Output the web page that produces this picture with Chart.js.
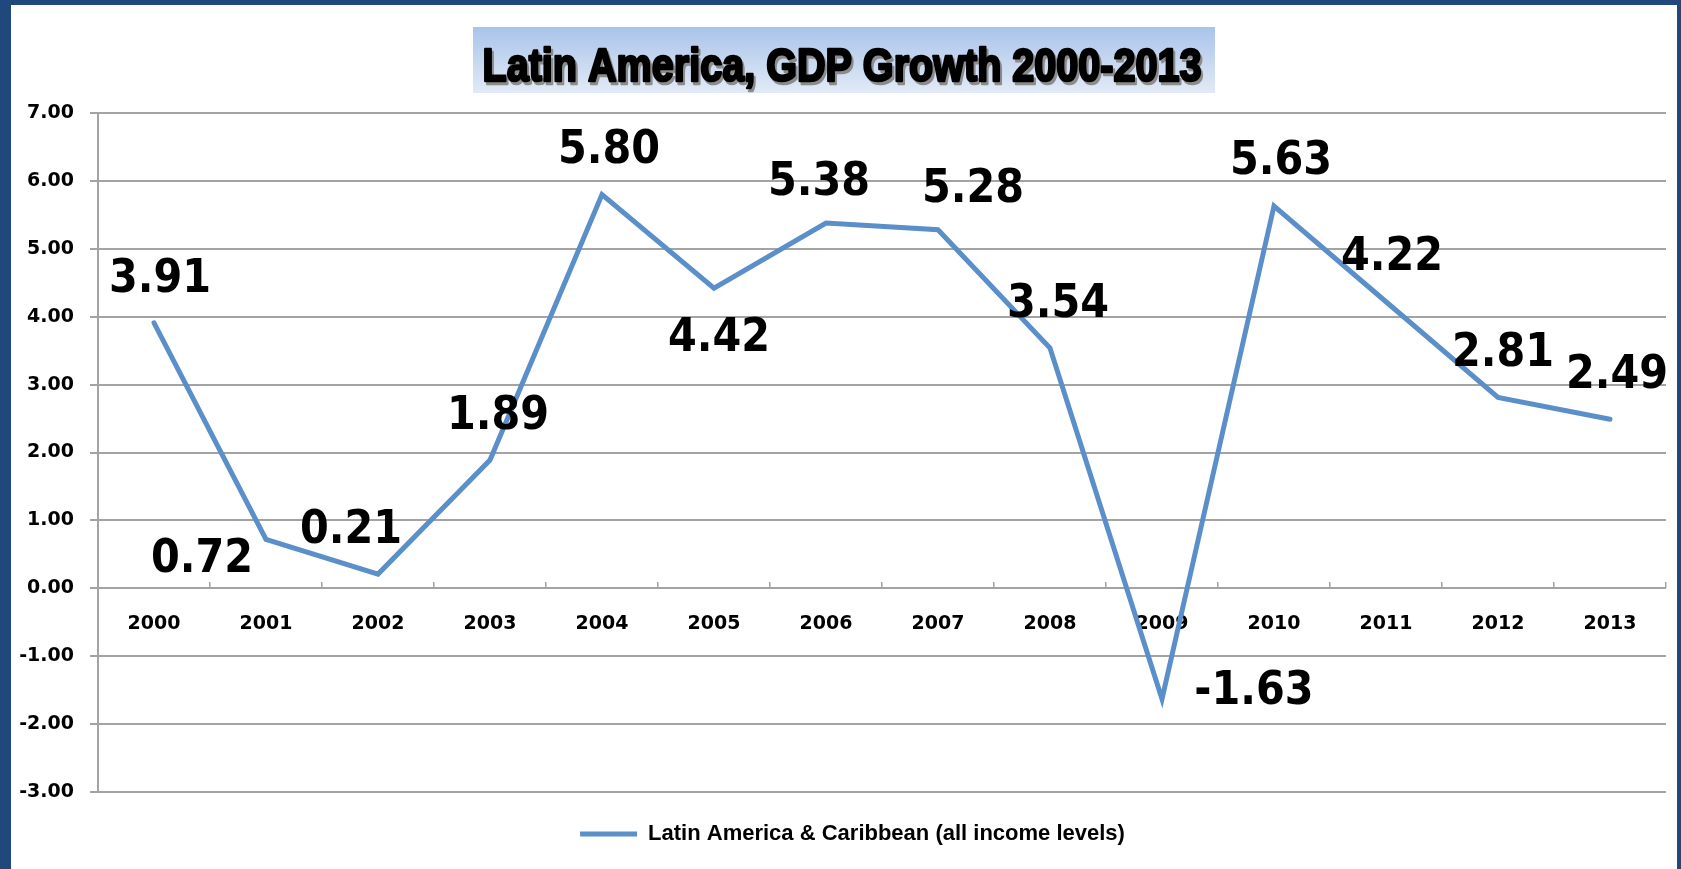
<!DOCTYPE html>
<html>
<head>
<meta charset="utf-8">
<title>Latin America, GDP Growth 2000-2013</title>
<script src="https://cdn.jsdelivr.net/npm/chart.js@4.4.1/dist/chart.umd.min.js"></script>
<style>
  html, body { margin: 0; padding: 0; width: 100%; height: 100%; overflow: hidden; background: #1f497d; }
  #frame { position: absolute; left: 11px; top: 5px; width: 1666px; height: 864px; background: #fff; }
  #chart { display: block; }
</style>
</head>
<body>
<div id="frame"><canvas id="chart" width="1666" height="860"></canvas></div>
<script>
const chartTitle = 'Latin America, GDP Growth 2000-2013';
const seriesName = 'Latin America & Caribbean (all income levels)';
const years = ['2000', '2001', '2002', '2003', '2004', '2005', '2006',
               '2007', '2008', '2009', '2010', '2011', '2012', '2013'];
const gdpGrowth = [3.91, 0.72, 0.21, 1.89, 5.80, 4.42, 5.38,
                   5.28, 3.54, -1.63, 5.63, 4.22, 2.81, 2.49];
const yMin = -3;
const yMax = 7;
const yStep = 1;

// label nudges in px from each point (x, y of the digit centre)
const labelShift = [
  [6, -48], [-64, 16], [-27, -48], [8, -48], [7, -48], [5, 46], [-7, -45],
  [35, -45], [8, -48], [92, -12], [7, -49], [6, -49], [5, -49], [7, -48]
];

const lineBlue = '#5a8fc9';
const gridGrey = '#a3a3a3';
const tickFont = { family: '"DejaVu Sans", Verdana, sans-serif', weight: 'bold', size: 19 };

// gradient box + squeezed heavy title at the top
const titleBox = {
  id: 'titleBox',
  beforeDraw(chart) {
    const ctx = chart.ctx;
    const cx = chart.width / 2;
    const w = 742, h = 66, top = 22;
    ctx.save();
    const g = ctx.createLinearGradient(0, top, 0, top + h);
    g.addColorStop(0, '#a9c4ea');
    g.addColorStop(1, '#e2eaf6');
    ctx.fillStyle = g;
    ctx.fillRect(cx - w / 2, top, w, h);

    ctx.font = 'bold 47px "Liberation Sans", Arial, sans-serif';
    const tw = ctx.measureText(chartTitle).width;
    ctx.translate(cx - 2, 76);
    ctx.scale(719 / tw, 1);
    ctx.textAlign = 'center';
    ctx.textBaseline = 'alphabetic';
    ctx.lineJoin = 'round';
    ctx.fillStyle = '#8c8c8c';
    ctx.strokeStyle = '#8c8c8c';
    ctx.lineWidth = 2.6;
    ctx.strokeText(chartTitle, 2.5, 2.5);
    ctx.fillText(chartTitle, 2.5, 2.5);
    ctx.fillStyle = '#000';
    ctx.strokeStyle = '#000';
    ctx.strokeText(chartTitle, 0, 0);
    ctx.fillText(chartTitle, 0, 0);
    ctx.restore();
  }
};

// big value labels next to each point
const valueLabels = {
  id: 'valueLabels',
  afterDatasetsDraw(chart) {
    const ctx = chart.ctx;
    const meta = chart.getDatasetMeta(0);
    ctx.save();
    ctx.font = 'bold 46px "DejaVu Sans", sans-serif';
    if ('fontStretch' in ctx) ctx.fontStretch = 'condensed';
    ctx.fillStyle = '#000';
    ctx.textAlign = 'center';
    ctx.textBaseline = 'alphabetic';
    meta.data.forEach((pt, i) => {
      const [dx, dy] = labelShift[i];
      ctx.fillText(gdpGrowth[i].toFixed(2), pt.x + dx, pt.y + dy + 17);
    });
    ctx.restore();
  }
};

// nudge the legend row a little to the right of centre
const legendNudge = {
  id: 'legendNudge',
  afterLayout(chart) {
    if (chart.legend) {
      chart.legend.left += 14;
      chart.legend.right += 14;
    }
  }
};

new Chart(document.getElementById('chart'), {
  type: 'line',
  data: {
    labels: years,
    datasets: [{
      label: seriesName,
      data: gdpGrowth,
      borderColor: lineBlue,
      backgroundColor: lineBlue,
      borderWidth: 5,
      borderCapStyle: 'round',
      borderJoinStyle: 'miter',
      pointRadius: 0,
      tension: 0,
      fill: false
    }]
  },
  options: {
    responsive: false,
    animation: false,
    layout: { padding: { top: 108, right: 11, bottom: 10, left: 0 } },
    scales: {
      x: {
        position: { y: 0 },
        offset: true,
        grid: {
          offset: true,
          drawOnChartArea: false,
          drawTicks: true,
          tickLength: -6,
          color: gridGrey,
          lineWidth: 1.5
        },
        border: { display: false },
        ticks: {
          color: '#000',
          font: tickFont,
          padding: 30,
          maxRotation: 0,
          autoSkip: false
        }
      },
      y: {
        min: yMin,
        max: yMax,
        afterFit(scale) { scale.width = 87; },
        grid: { color: gridGrey, lineWidth: 2, tickLength: 8 },
        border: { color: gridGrey, width: 2 },
        ticks: {
          stepSize: yStep,
          color: '#000',
          font: tickFont,
          padding: 16,
          callback: v => v.toFixed(2)
        }
      }
    },
    plugins: {
      title: { display: false },
      tooltip: { enabled: false },
      legend: {
        position: 'bottom',
        labels: {
          usePointStyle: true,
          pointStyle: 'line',
          pointStyleWidth: 57,
          padding: 31,
          color: '#000',
          font: { family: '"Liberation Sans", Arial, sans-serif', weight: 'bold', size: 22 }
        }
      }
    }
  },
  plugins: [titleBox, valueLabels, legendNudge]
});
</script>
</body>
</html>
